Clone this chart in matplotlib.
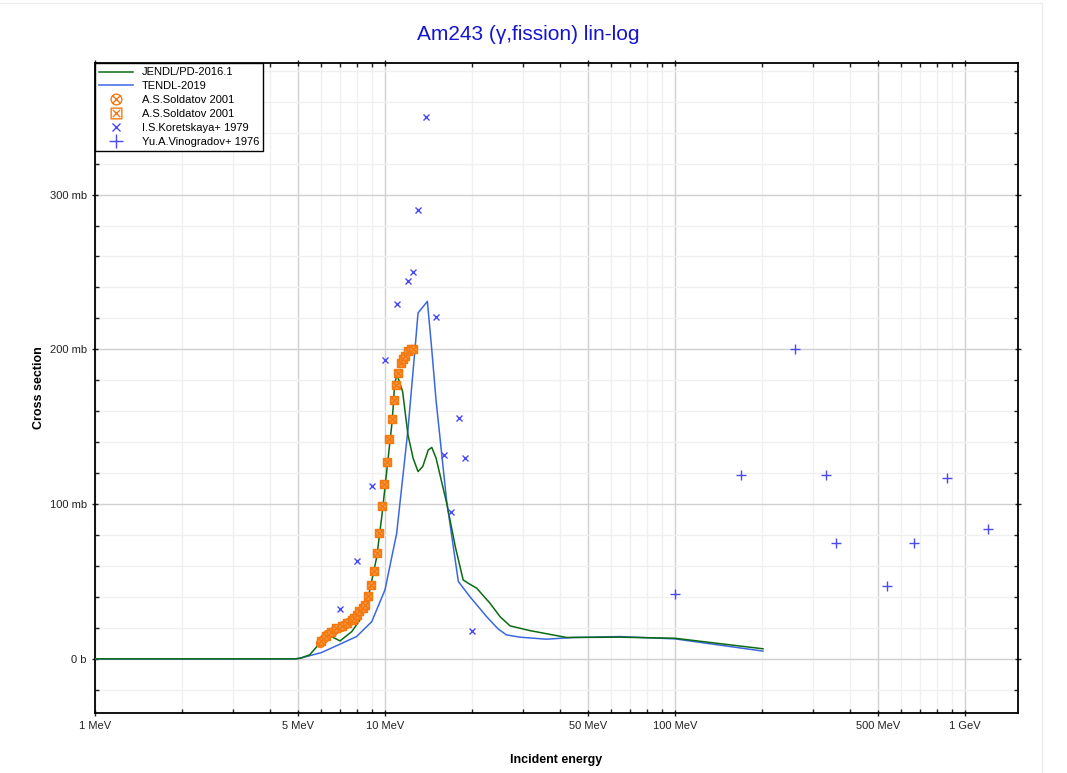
import numpy as np
import matplotlib
matplotlib.use("Agg")
import matplotlib.pyplot as plt
from matplotlib.path import Path
from matplotlib.ticker import FixedLocator, NullFormatter, MultipleLocator
from matplotlib.patches import Rectangle

plt.rcParams['font.family'] = ['Liberation Sans', 'DejaVu Sans']

# evaluated curves (MeV, mb)
jendl_e = [1.0, 4.9, 5.1, 5.5, 5.97, 6.45, 7.0, 7.68, 8.2, 8.77, 9.37, 9.75, 10.15,
           10.6, 10.8, 11.0, 11.5, 12.0, 12.5, 13.0, 13.5, 14.1, 14.5, 15.0, 16.3,
           17.5, 18.6, 19.5, 20.7, 23.0, 25.0, 27.0, 31.5, 42.3, 64.5, 100.0, 201.0]
jendl_xs = [0.0, 0.0, 0.4, 2.6, 10.3, 14.9, 11.6, 17.6, 25.2, 40.3, 66.0, 92.0, 122.0,
            154.5, 178.0, 183.6, 172.8, 144.8, 129.7, 121.0, 124.3, 135.0, 136.6, 129.7, 101.0,
            72.0, 51.0, 48.5, 45.7, 36.0, 27.0, 21.3, 18.3, 13.8, 14.0, 13.3, 6.5]

tendl_e = [1.0, 4.9, 5.1, 6.05, 7.98, 9.0, 10.0, 10.97, 12.0, 12.7, 13.0, 14.0, 14.5,
           15.0, 16.3, 17.9, 19.6, 22.4, 24.5, 26.2, 29.2, 36.0, 44.5, 64.5, 100.0, 201.0]
tendl_xs = [0.0, 0.0, 0.4, 4.1, 14.4, 24.0, 44.6, 81.0, 148.0, 201.0, 223.5, 231.0, 199.7,
            167.0, 102.8, 50.0, 40.3, 27.3, 19.5, 15.5, 14.0, 12.7, 13.8, 14.4, 12.9, 5.0]

# A.S.Soldatov 2001 (circle markers)
sold1_e = [5.97, 6.1, 6.2, 6.33, 6.45, 6.6, 6.74, 6.88, 7.04, 7.18, 7.33, 7.48]
sold1_xs = [10.5, 12.7, 14.4, 15.9, 17.0, 18.1, 19.2, 20.2, 20.9, 22.0, 22.6, 23.5]

# A.S.Soldatov 2001 (square markers)
sold2_e = [6.03, 6.27, 6.52, 6.8, 7.1, 7.4, 7.68, 7.8, 7.98, 8.15, 8.4, 8.55, 8.77,
           8.94, 9.16, 9.37, 9.53, 9.75, 9.93, 10.15, 10.35, 10.58, 10.76, 10.9,
           11.1, 11.34, 11.55, 11.75, 12.0, 12.3, 12.45]
sold2_xs = [11.5, 15.0, 17.5, 19.7, 21.5, 23.0, 24.8, 26.3, 28.4, 30.6, 32.8, 34.9, 40.3,
            47.8, 57.0, 68.3, 81.6, 98.9, 112.9, 126.9, 142.0, 155.0, 167.0, 177.0,
            185.0, 191.0, 194.0, 196.0, 198.6, 200.4, 200.4]

# I.S.Koretskaya+ 1979
kor_e = [7.0, 8.0, 9.02, 10.0, 11.0, 12.0, 12.5, 13.0, 13.9, 15.0, 15.95, 16.95, 18.0,
         18.9, 19.95]
kor_xs = [32.3, 63.3, 111.8, 193.3, 229.5, 244.3, 250.2, 290.2, 350.4, 221.0, 132.0,
          95.0, 155.8, 130.0, 18.1]

# Yu.A.Vinogradov+ 1976
vin_e = [100.0, 169.0, 259.0, 332.0, 359.0, 538.0, 667.0, 867.0, 1200.0]
vin_xs = [42.0, 119.0, 200.0, 119.0, 75.0, 47.2, 75.0, 117.0, 84.0]

x_major = [1, 5, 10, 50, 100, 500, 1000]
x_labels = ['1 MeV', '5 MeV', '10 MeV', '50 MeV', '100 MeV', '500 MeV', '1 GeV']
y_major = [0, 100, 200, 300]
y_labels = ['0 b', '100 mb', '200 mb', '300 mb']


def crossed(base):
    diag = Path([(-0.7, -0.7), (0.7, 0.7), (-0.7, 0.7), (0.7, -0.7)],
                [Path.MOVETO, Path.LINETO, Path.MOVETO, Path.LINETO])
    return Path.make_compound_path(base, diag)


sq = Path([(-1, -1), (1, -1), (1, 1), (-1, 1), (-1, -1)],
          [Path.MOVETO, Path.LINETO, Path.LINETO, Path.LINETO, Path.CLOSEPOLY])
m_circ = crossed(Path.unit_circle())
m_sq = crossed(sq)

fig = plt.figure(figsize=(10.67, 7.73), dpi=100)
fig.patches.append(Rectangle((-0.01, -0.01), 0.9866, 1.0062, transform=fig.transFigure,
                             fill=False, edgecolor='#ececec', linewidth=1))
ax = fig.add_axes([0.089, 0.0776, 0.8651, 0.8409])

orange = '#f47a10'
ax.plot(tendl_e, tendl_xs, color='#3b68e0', lw=1.1, label='TENDL-2019', zorder=3)
ax.plot(jendl_e, jendl_xs, color='#0b6b12', lw=1.1, label='JENDL/PD-2016.1', zorder=3.5)
ax.plot(sold1_e, sold1_xs, ls='none', marker=m_circ, ms=5.5, mew=1.3, mec=orange,
        mfc='#f8a460', label='A.S.Soldatov 2001', zorder=4)
ax.plot(sold2_e, sold2_xs, ls='none', marker=m_sq, ms=5.5, mew=1.3, mec=orange,
        mfc='#f8a460', label='A.S.Soldatov 2001', zorder=4)
ax.plot(kor_e, kor_xs, ls='none', marker='x', ms=4, mew=1, color='#4a4af5',
        label='I.S.Koretskaya+ 1979', zorder=5)
ax.plot(vin_e, vin_xs, ls='none', marker='+', ms=7, mew=1, color='#4a4af5',
        label='Yu.A.Vinogradov+ 1976', zorder=5)

ax.set_xscale('log')
ax.set_xlim(1, 1523)
ax.set_ylim(-35, 385)

ax.xaxis.set_major_locator(FixedLocator(x_major))
ax.set_xticklabels(x_labels)
minors = [m * 10 ** d for d in range(0, 4) for m in (2, 3, 4, 6, 7, 8, 9)]
ax.xaxis.set_minor_locator(FixedLocator([v for v in minors if v < 1523]))
ax.xaxis.set_minor_formatter(NullFormatter())
ax.yaxis.set_major_locator(FixedLocator(y_major))
ax.set_yticklabels(y_labels)
ax.yaxis.set_minor_locator(MultipleLocator(20))

ax.grid(which='major', color='#d0d0d0', lw=1)
ax.grid(which='minor', color='#f0f0f0', lw=1)
ax.set_axisbelow(True)

ax.tick_params(which='both', direction='in', top=True, right=True, labelsize=8,
               colors='#222222', width=1)
ax.tick_params(which='major', length=5, direction='inout')
ax.tick_params(which='minor', length=3)
for s in ax.spines.values():
    s.set_linewidth(1.3)

ax.set_xlabel('Incident energy', fontsize=9, fontweight='bold', labelpad=16)
ax.set_ylabel('Cross section', fontsize=9, fontweight='bold', labelpad=3)
fig.text(0.495, 0.955, 'Am243 (γ,fission) lin-log', color='#1414d2', fontsize=15,
         ha='center', va='center')

h, l = ax.get_legend_handles_labels()
order = [1, 0, 2, 3, 4, 5]
leg = ax.legend([h[i] for i in order], [l[i] for i in order], loc='upper left',
                fontsize=8, frameon=True, fancybox=False, edgecolor='black',
                framealpha=1, borderaxespad=0, labelspacing=0.35, markerscale=1.4,
                handlelength=3.0, handletextpad=0.8, borderpad=0.4)
leg.get_frame().set_linewidth(1)
for lh in leg.legend_handles[2:4]:
    lh.set_markerfacecolor('none')
    lh.set_markeredgewidth(1.0)

fig.savefig('out.png', dpi=100)
